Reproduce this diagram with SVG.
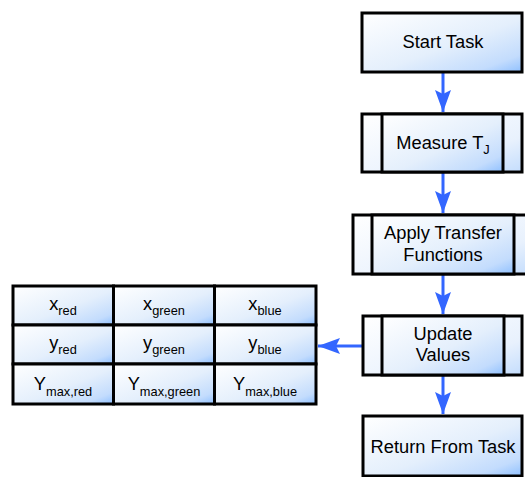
<svg xmlns="http://www.w3.org/2000/svg" width="525" height="477" viewBox="0 0 525 477">
  <defs>
    <linearGradient id="fill" x1="0" y1="0" x2="1" y2="1">
      <stop offset="0" stop-color="#ffffff"/>
      <stop offset="0.55" stop-color="#e4effc"/>
      <stop offset="0.85" stop-color="#c3dcfd"/>
      <stop offset="1" stop-color="#8fc0ff"/>
    </linearGradient>
    <linearGradient id="side" x1="0" y1="0" x2="1" y2="1">
      <stop offset="0" stop-color="#ffffff"/>
      <stop offset="0.7" stop-color="#e8f1fd"/>
      <stop offset="1" stop-color="#c4ddfd"/>
    </linearGradient>
    <marker id="arrow" markerUnits="userSpaceOnUse" markerWidth="24" markerHeight="18" refX="22" refY="8" orient="auto">
      <path d="M0,0 L22,8 L0,16 L4,8 Z" fill="#3366ff"/>
    </marker>
  </defs>
  <style>
    .box { fill: url(#fill); stroke: #000; stroke-width: 3; }
    .side { fill: url(#side); stroke: #000; stroke-width: 3; }
    .label { font-family: "Liberation Sans", Arial, sans-serif; font-size: 18.3px; fill: #000; text-anchor: middle; }
    .sub { font-size: 12.8px; }
    .link { stroke: #3366ff; stroke-width: 3; fill: none; marker-end: url(#arrow); }
  </style>

  <!-- flow connectors -->
  <g id="connectors">
    <line class="link" x1="443" y1="73" x2="443" y2="112"/>
    <line class="link" x1="443" y1="173" x2="443" y2="213"/>
    <line class="link" x1="443" y1="275" x2="443" y2="314"/>
    <line class="link" x1="443" y1="376" x2="443" y2="414"/>
    <line class="link" x1="362" y1="346" x2="318" y2="346"/>
  </g>

  <!-- process: Start Task -->
  <g id="start-task">
    <rect class="box" x="362" y="13" width="160" height="59"/>
    <text class="label" x="443" y="47.5">Start Task</text>
  </g>

  <!-- predefined process: Measure T_J -->
  <g id="measure-tj">
    <rect class="side" x="362" y="114" width="160" height="58"/>
    <rect class="box" x="382" y="114" width="121" height="58"/>
    <text class="label" x="443" y="149">Measure T<tspan class="sub" dy="5">J</tspan></text>
  </g>

  <!-- predefined process: Apply Transfer Functions -->
  <g id="apply-transfer">
    <rect class="side" x="353" y="215" width="180" height="59"/>
    <rect class="box" x="372" y="215" width="142" height="59"/>
    <text class="label" x="443" y="239">Apply Transfer</text>
    <text class="label" x="443" y="261">Functions</text>
  </g>

  <!-- predefined process: Update Values -->
  <g id="update-values">
    <rect class="side" x="363" y="316" width="159" height="59"/>
    <rect class="box" x="382" y="316" width="122" height="59"/>
    <text class="label" x="443" y="340">Update</text>
    <text class="label" x="443" y="361">Values</text>
  </g>

  <!-- process: Return From Task -->
  <g id="return-from-task">
    <rect class="box" x="363" y="416" width="159" height="60"/>
    <text class="label" x="443" y="452.5">Return From Task</text>
  </g>

  <!-- colour calibration table -->
  <g id="value-table">
    <rect class="box" x="13" y="286" width="100.5" height="39"/>
    <rect class="box" x="113.5" y="286" width="101" height="39"/>
    <rect class="box" x="214.5" y="286" width="101.5" height="39"/>
    <rect class="box" x="13" y="325" width="100.5" height="39"/>
    <rect class="box" x="113.5" y="325" width="101" height="39"/>
    <rect class="box" x="214.5" y="325" width="101.5" height="39"/>
    <rect class="box" x="13" y="364" width="100.5" height="40"/>
    <rect class="box" x="113.5" y="364" width="101" height="40"/>
    <rect class="box" x="214.5" y="364" width="101.5" height="40"/>

    <text class="label" x="63" y="310">x<tspan class="sub" dy="5">red</tspan></text>
    <text class="label" x="164" y="310">x<tspan class="sub" dy="5">green</tspan></text>
    <text class="label" x="265" y="310">x<tspan class="sub" dy="5">blue</tspan></text>

    <text class="label" x="63" y="349">y<tspan class="sub" dy="5">red</tspan></text>
    <text class="label" x="164" y="349">y<tspan class="sub" dy="5">green</tspan></text>
    <text class="label" x="265" y="349">y<tspan class="sub" dy="5">blue</tspan></text>

    <text class="label" x="63" y="389.5">Y<tspan class="sub" dy="6">max,red</tspan></text>
    <text class="label" x="164" y="389.5">Y<tspan class="sub" dy="6">max,green</tspan></text>
    <text class="label" x="265" y="389.5">Y<tspan class="sub" dy="6">max,blue</tspan></text>
  </g>
</svg>
